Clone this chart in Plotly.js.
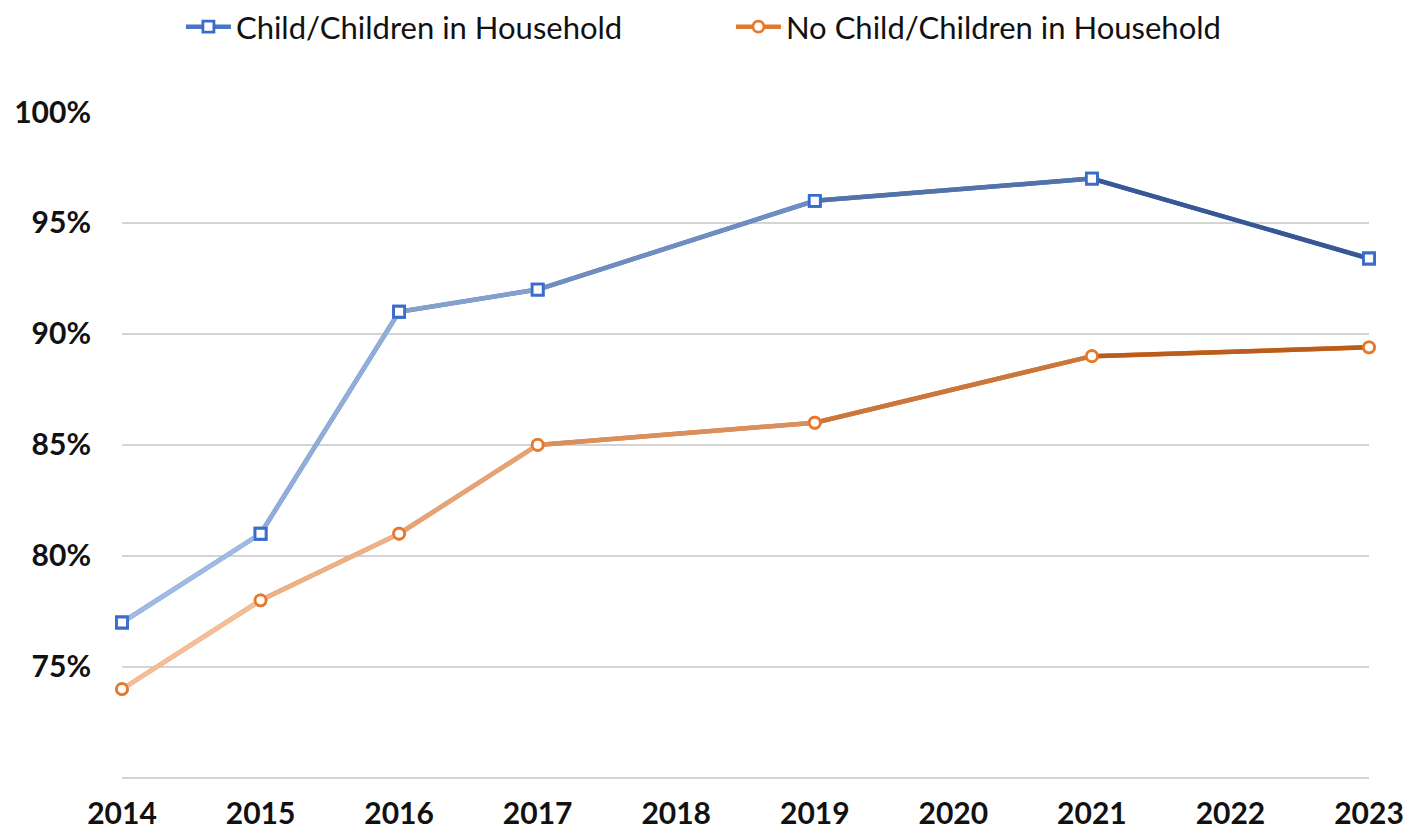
<!DOCTYPE html>
<html>
<head>
<meta charset="utf-8">
<script src="https://cdn.plot.ly/plotly-3.0.1.min.js"></script>
<style>html,body{margin:0;padding:0;background:#fff;}#chart{width:1408px;height:835px;}</style>
</head>
<body>
<div id="chart"></div>
<script>
const years = [2014, 2015, 2016, 2017, 2019, 2021, 2023];
const childHH = [77, 81, 91, 92, 96, 97, 93.4];
const noChildHH = [74, 78, 81, 85, 86, 89, 89.4];
const seriesNames = ['Child/Children in Household', 'No Child/Children in Household'];
const xTicks = [2014, 2015, 2016, 2017, 2018, 2019, 2020, 2021, 2022, 2023];
const gridVals = [70, 75, 80, 85, 90, 95];
const gridText = ['', '75%', '80%', '85%', '90%', '95%'];
const topVal = [100];
const topText = ['100%'];

function lerp(a, b, t) { return Math.round(a + (b - a) * t); }
function mix(c1, c2, t) {
  return 'rgb(' + lerp(c1[0], c2[0], t) + ',' + lerp(c1[1], c2[1], t) + ',' + lerp(c1[2], c2[2], t) + ')';
}

const styles = [
  {start: [166, 194, 232], end: [42, 74, 138], marker: '#3a6ccc', symbol: 'square', legendLine: '#4a74c4'},
  {start: [248, 196, 160], end: [178, 80, 12], marker: '#e8792c', symbol: 'circle', legendLine: '#e07a30'}
];
const allY = [childHH, noChildHH];
const x0 = years[0], x1 = years[years.length - 1];
const traces = [];

allY.forEach((ys, s) => {
  const st = styles[s];
  traces.push({
    x: years, y: ys, name: seriesNames[s], type: 'scatter', mode: 'lines+markers',
    line: {color: st.legendLine, width: 4.5},
    marker: {symbol: st.symbol, size: 11, color: '#ffffff', line: {color: st.marker, width: 2.8}},
    cliponaxis: false, hoverinfo: 'skip'
  });
});
allY.forEach((ys, s) => {
  const st = styles[s];
  for (let i = 0; i < years.length - 1; i++) {
    const t = ((years[i] + years[i + 1]) / 2 - x0) / (x1 - x0);
    traces.push({
      x: [years[i], years[i + 1]], y: [ys[i], ys[i + 1]], type: 'scatter', mode: 'lines',
      line: {color: mix(st.start, st.end, t), width: 4.5}, showlegend: false, cliponaxis: false, hoverinfo: 'skip'
    });
  }
});
allY.forEach((ys, s) => {
  const st = styles[s];
  traces.push({
    x: years, y: ys, type: 'scatter', mode: 'markers', showlegend: false, cliponaxis: false,
    marker: {symbol: st.symbol, size: 11, color: '#ffffff', line: {color: st.marker, width: 2.8}},
    hoverinfo: 'skip'
  });
});
traces.push({x: [x0], y: [100], yaxis: 'y2', type: 'scatter', mode: 'markers', marker: {opacity: 0}, showlegend: false, hoverinfo: 'skip'});

const tickFont = {size: 30, family: 'Lato', weight: 'bold', color: '#111'};
const layout = {
  width: 1408, height: 835,
  paper_bgcolor: '#ffffff', plot_bgcolor: '#ffffff',
  margin: {l: 122, r: 39, t: 112, b: 46},
  font: {family: 'Lato, "Open Sans", sans-serif', color: '#111111'},
  showlegend: true,
  legend: {orientation: 'h', x: 0.1285, xanchor: 'left', xref: 'container', y: 1.0, yanchor: 'top', yref: 'container',
           font: {size: 31, color: '#111111'}, itemwidth: 45, traceorder: 'normal', tracegroupgap: 0,
           entrywidth: 490, entrywidthmode: 'pixels'},
  xaxis: {range: [2014, 2023], tickvals: xTicks, ticktext: xTicks.map(String), showgrid: false, zeroline: false,
          showline: false, ticks: '', tickfont: tickFont, ticklabelstandoff: 4},
  yaxis: {range: [69.5, 100], tickvals: gridVals, ticktext: gridText, showgrid: true, gridcolor: '#d4d4d4', gridwidth: 1.5,
          zeroline: false, showline: false, ticks: '', ticklabelstandoff: 30, tickfont: tickFont},
  yaxis2: {range: [69.5, 100], overlaying: 'y', side: 'left', tickvals: topVal, ticktext: topText, showgrid: false,
           zeroline: false, showline: false, ticks: '', ticklabelstandoff: 30, tickfont: tickFont}
};
Plotly.newPlot('chart', traces, layout, {displayModeBar: false, staticPlot: true});
</script>
</body>
</html>
